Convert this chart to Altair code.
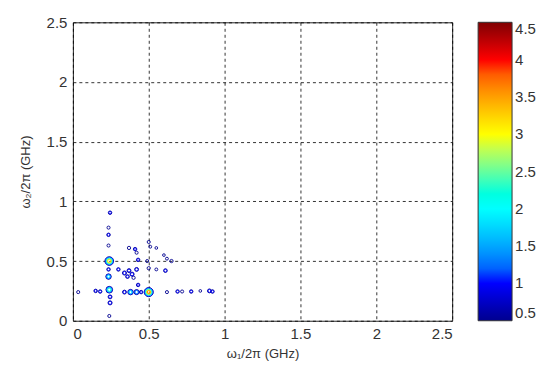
import altair as alt
import pandas as pd

# Feature peaks: x (GHz), y (GHz), peak level
feat_x = [0.245, 0.235, 0.235, 0.235, 0.24, 0.235, 0.235, 0.24, 0.245, 0.245, 0.24,
          0.035, 0.15, 0.18, 0.34, 0.38, 0.42, 0.45, 0.50, 0.62, 0.69, 0.72, 0.78, 0.84, 0.90, 0.92,
          0.30, 0.34, 0.37, 0.36, 0.39, 0.42, 0.40, 0.43, 0.37, 0.41, 0.42, 0.43, 0.50, 0.51, 0.55,
          0.50, 0.55, 0.61, 0.60, 0.62, 0.65, 0.49]
feat_y = [0.905, 0.78, 0.72, 0.63, 0.50, 0.43, 0.37, 0.26, 0.20, 0.15, 0.04,
          0.24, 0.25, 0.245, 0.24, 0.24, 0.24, 0.24, 0.24, 0.24, 0.245, 0.245, 0.245, 0.25, 0.25, 0.245,
          0.43, 0.40, 0.42, 0.37, 0.39, 0.43, 0.36, 0.30, 0.61, 0.60, 0.57, 0.51, 0.66, 0.62, 0.61,
          0.44, 0.43, 0.42, 0.55, 0.52, 0.50, 0.50]
feat_peak = [1.0, 0.8, 1.0, 0.8, 3.6, 1.0, 2.0, 2.6, 1.2, 1.3, 0.8,
             0.8, 1.0, 1.0, 1.2, 2.0, 1.8, 1.0, 3.8, 0.8, 1.0, 0.8, 1.0, 0.6, 1.2, 1.0,
             1.0, 1.3, 1.2, 1.1, 1.3, 1.2, 0.9, 1.0, 0.9, 1.0, 0.8, 1.0, 0.8, 0.7, 0.6,
             0.9, 0.7, 1.1, 0.6, 0.7, 0.9, 0.8]

contour_levels = [0.5, 0.95, 1.4, 1.85, 2.3, 2.75, 3.2, 3.65, 4.1]
ticks = [0, 0.5, 1, 1.5, 2, 2.5]
cbar_ticks = [0.5, 1, 1.5, 2, 2.5, 3, 3.5, 4, 4.5]
jet_domain = [0.5, 1.0, 2.0, 3.0, 4.0, 4.5]
jet_colors = ["#00008f", "#0000ff", "#00ffff", "#ffff00", "#ff0000", "#800000"]

rows = []
for x, y, p in zip(feat_x, feat_y, feat_peak):
    for L in contour_levels:
        if L <= p:
            d = 2.5 + 2.0 * (p - L)
            rows.append({"x": x, "y": y, "level": L, "sz": d * d})
df = pd.DataFrame(rows).sort_values("level")

FONT = "Liberation Sans"

chart = alt.Chart(df).mark_point(filled=False, shape="circle", strokeWidth=0.9, opacity=1).encode(
    x=alt.X("x:Q", scale=alt.Scale(domain=[0, 2.5], nice=False),
            axis=alt.Axis(values=ticks, title="ω₁/2π (GHz)", labelExpr="'' + datum.value")),
    y=alt.Y("y:Q", scale=alt.Scale(domain=[0, 2.5], nice=False),
            axis=alt.Axis(values=ticks, title="ω₂/2π (GHz)", labelExpr="'' + datum.value")),
    color=alt.Color("level:Q",
                    scale=alt.Scale(domain=jet_domain, range=jet_colors),
                    legend=alt.Legend(title=None, orient="none", legendX=406, legendY=0,
                                      gradientLength=299, gradientThickness=34,
                                      gradientStrokeColor="#333", gradientStrokeWidth=1,
                                      values=cbar_ticks, labelFontSize=15, labelColor="#333",
                                      labelFont=FONT, labelOverlap=False, padding=0,
                                      labelBaseline="middle", labelOffset=3,
                                      labelExpr="'' + datum.value",
                                      direction="vertical", type="gradient")),
    size=alt.Size("sz:Q", scale=None),
    order=alt.Order("level:Q"),
).properties(
    width=380, height=299,
    autosize=alt.AutoSizeParams(type="none"),
    padding={"left": 65, "top": 14, "right": 90, "bottom": 45},
).configure_view(
    stroke="#222", strokeWidth=1
).configure_axis(
    grid=True, gridColor="#000", gridDash=[3, 3], gridOpacity=1, gridWidth=0.8,
    domain=False, ticks=False,
    labelFont=FONT, labelFontSize=15, labelColor="#333", labelPadding=6,
    titleFont=FONT, titleFontSize=13, titleColor="#333", titleFontWeight="normal",
).configure_axisX(titlePadding=6).configure_axisY(titlePadding=14)

chart.save("out.html", embed_options={"renderer": "svg", "actions": False})
